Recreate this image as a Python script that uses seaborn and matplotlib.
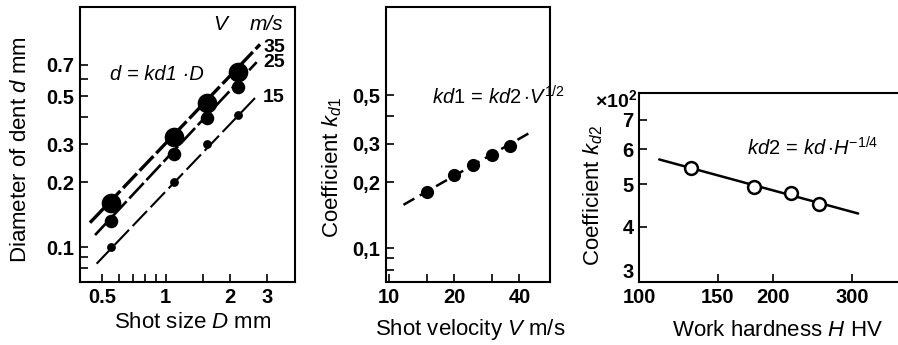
import matplotlib
matplotlib.use("Agg")
import matplotlib.pyplot as plt
import seaborn as sns
import pandas as pd
from matplotlib.ticker import FixedLocator, FixedFormatter, NullLocator

# ---------------- data ----------------
# Panel 1: dent diameter vs shot size, for three shot velocities
shot_size = [0.55, 1.09, 1.57, 2.2]
dent_v35 = [0.16, 0.325, 0.464, 0.65]
dent_v25 = [0.133, 0.27, 0.395, 0.55]
dent_v15 = [0.10, 0.20, 0.30, 0.41]
fit_D35 = [0.44, 2.78]
fit_d35 = [0.13, 0.87]
fit_D25 = [0.465, 2.68]
fit_d25 = [0.114, 0.72]
fit_D15 = [0.473, 2.73]
fit_d15 = [0.084, 0.51]
velocity_labels = ["35", "25", "15"]

# Panel 2: coefficient kd1 vs shot velocity
shot_velocity = [15, 20, 24.5, 30, 36]
coef_kd1 = [0.181, 0.216, 0.24, 0.267, 0.294]
fit_V = [11.7, 45.6]
fit_kd1 = [0.158, 0.341]

# Panel 3: coefficient kd2 (x10^2) vs work hardness
hardness = [131, 181, 219, 253]
coef_kd2 = [5.43, 4.93, 4.78, 4.52]
fit_H = [111, 310]
fit_kd2 = [5.69, 4.29]

# tick positions / labels
p1_xticks = [0.5, 0.6, 0.7, 0.8, 0.9, 1, 1.5, 2, 3]
p1_xlabels = ["0.5", "", "", "", "", "1", "", "2", "3"]
p1_yticks = [0.08, 0.09, 0.1, 0.2, 0.3, 0.4, 0.5, 0.6, 0.7]
p1_ylabels = ["", "", "0.1", "0.2", "0.3", "", "0.5", "", "0.7"]
p2_xticks = [10, 15, 20, 30, 40]
p2_xlabels = ["10", "", "20", "", "40"]
p2_yticks = [0.08, 0.09, 0.1, 0.2, 0.3, 0.4, 0.5]
p2_ylabels = ["", "", "0,1", "0,2", "0,3", "", "0,5"]
p3_xticks = [100, 150, 200, 300]
p3_xlabels = ["100", "150", "200", "300"]
p3_yticks = [3, 4, 5, 6, 7]
p3_ylabels = ["3", "4", "5", "6", "7"]

# ---------------- style ----------------
sns.set_style("ticks")
plt.rcParams["font.family"] = ["Liberation Sans", "DejaVu Sans"]
plt.rcParams["mathtext.fontset"] = "custom"
plt.rcParams["mathtext.rm"] = "Liberation Sans"
plt.rcParams["mathtext.it"] = "Liberation Sans:italic"
plt.rcParams["mathtext.bf"] = "Liberation Sans:bold"
for key in ["text.color", "axes.labelcolor", "xtick.color", "ytick.color",
            "xtick.labelcolor", "ytick.labelcolor", "axes.edgecolor"]:
    plt.rcParams[key] = "black"

W, H = 898, 345
fig = plt.figure(figsize=(W / 100, H / 100), dpi=100)


def px_axes(left, right, top, bottom):
    return fig.add_axes([left / W, (H - bottom) / H, (right - left) / W, (bottom - top) / H])


ax1 = px_axes(80, 295, 7, 282)
ax2 = px_axes(386, 550, 7, 282)
ax3 = px_axes(639, 907.5, 93, 282)

TICK_FS = 14.5
LABEL_FS = 16


def style_axes(ax, xt, xl, yt, yl):
    ax.set_xscale("log")
    ax.set_yscale("log")
    ax.xaxis.set_major_locator(FixedLocator(xt))
    ax.xaxis.set_major_formatter(FixedFormatter(xl))
    ax.yaxis.set_major_locator(FixedLocator(yt))
    ax.yaxis.set_major_formatter(FixedFormatter(yl))
    ax.xaxis.set_minor_locator(NullLocator())
    ax.yaxis.set_minor_locator(NullLocator())
    ax.tick_params(direction="in", length=6, width=1.2, color="black",
                   labelcolor="black", labelsize=TICK_FS, pad=4)
    for lab in ax.get_xticklabels() + ax.get_yticklabels():
        lab.set_fontweight("bold")
    for sp in ax.spines.values():
        sp.set_visible(True)
        sp.set_linewidth(1.5)
        sp.set_color("black")


# ---------------- panel 1 ----------------
sns.lineplot(x=fit_D35, y=fit_d35, ax=ax1, color="black", lw=2.4,
             linestyle=(0, (6, 1.2)), sort=False)
sns.lineplot(x=fit_D25, y=fit_d25, ax=ax1, color="black", lw=1.9,
             linestyle=(0, (8, 1.5)), sort=False)
sns.lineplot(x=fit_D15, y=fit_d15, ax=ax1, color="black", lw=1.5,
             linestyle=(0, (10, 2.5)), sort=False)
sns.scatterplot(x=shot_size, y=dent_v35, ax=ax1, color="black", s=200,
                edgecolor="black", linewidth=0, zorder=5)
sns.scatterplot(x=shot_size, y=dent_v25, ax=ax1, color="black", s=95,
                edgecolor="black", linewidth=0, zorder=5)
sns.scatterplot(x=shot_size, y=dent_v15, ax=ax1, color="black", s=40,
                edgecolor="black", linewidth=0, zorder=5)
ax1.set_xlim(0.395, 4.06)
ax1.set_ylim(0.0691, 1.296)
style_axes(ax1, p1_xticks, p1_xlabels, p1_yticks, p1_ylabels)
ax1.set_xlabel("Shot size $D$ mm", fontsize=LABEL_FS)
ax1.set_ylabel("Diameter of dent $d$ mm", fontsize=LABEL_FS)
ax1.xaxis.set_label_coords(0.526, -0.1455)
ax1.yaxis.set_label_coords(-0.279, 0.48)
ax1.xaxis.label.set_va("center")
ax1.yaxis.label.set_va("center")

ax1.text((220 - 80) / 215, (282 - 25) / 275, "V", transform=ax1.transAxes,
         fontsize=15, fontstyle="italic", ha="center", va="center")
ax1.text((266 - 80) / 215, (282 - 25) / 275, "m/s", transform=ax1.transAxes,
         fontsize=15, fontstyle="italic", ha="center", va="center")
# "35" and "25" are stacked tightly in the reference: one two-line text
ax1.text((274 - 80) / 215, (282 - 55) / 275,
         velocity_labels[0] + "\n" + velocity_labels[1], transform=ax1.transAxes,
         fontsize=14, fontweight="bold", ha="center", va="center", linespacing=0.85)
ax1.text((274 - 80) / 215, (282 - 98) / 275, velocity_labels[2], transform=ax1.transAxes,
         fontsize=14, fontweight="bold", ha="center", va="center")
ax1.text((157 - 80) / 215, (282 - 75) / 275, "d = kd1 \u00b7D", transform=ax1.transAxes,
         fontsize=14.5, fontstyle="italic", ha="center", va="center")

# ---------------- panel 2 ----------------
sns.lineplot(x=fit_V, y=fit_kd1, ax=ax2, color="black", lw=1.8,
             linestyle=(0, (5, 2.5)), sort=False)
sns.scatterplot(x=shot_velocity, y=coef_kd1, ax=ax2, color="black", s=90,
                edgecolor="black", linewidth=0, zorder=5)
ax2.set_xlim(9.72, 55.3)
ax2.set_ylim(0.0702, 1.263)
style_axes(ax2, p2_xticks, p2_xlabels, p2_yticks, p2_ylabels)
ax2.set_xlabel("Shot velocity $V$ m/s", fontsize=LABEL_FS)
ax2.set_ylabel("Coefficient $k_{d1}$", fontsize=LABEL_FS)
ax2.xaxis.set_label_coords(0.512, -0.1745)
ax2.yaxis.set_label_coords(-0.329, 0.4145)
ax2.xaxis.label.set_va("center")
ax2.yaxis.label.set_va("center")
ax2.text((432 - 386) / 164, (282 - 97) / 275,
         r"$\mathit{kd1}\,{=}\,\mathit{kd2}\,{\cdot}\mathit{V}^{\mathit{1/2}}$",
         transform=ax2.transAxes, fontsize=14.5, ha="left", va="center", clip_on=False)

# ---------------- panel 3 ----------------
sns.lineplot(x=fit_H, y=fit_kd2, ax=ax3, color="black", lw=1.8, sort=False)
sns.scatterplot(x=hardness, y=coef_kd2, ax=ax3, color="white", s=85,
                edgecolor="black", linewidth=1.8, zorder=5)
ax3.set_xlim(100, 400)
ax3.set_ylim(3, 8.05)
style_axes(ax3, p3_xticks, p3_xlabels, p3_yticks, p3_ylabels)
ax3.get_yticklabels()[0].set_va("bottom")
ax3.set_xlabel("Work hardness $H$ HV", fontsize=LABEL_FS)
ax3.set_ylabel("Coefficient $k_{d2}$", fontsize=LABEL_FS)
ax3.xaxis.set_label_coords(0.514, -0.254)
ax3.yaxis.set_label_coords(-0.171, 0.46)
ax3.xaxis.label.set_va("center")
ax3.yaxis.label.set_va("center")
ax3.text((747 - 639) / 268.5, (282 - 148) / 189,
         r"$\mathit{kd2}\,{=}\,\mathit{kd}\,{\cdot}\mathit{H}^{\mathit{-1/4}}$",
         transform=ax3.transAxes, fontsize=14.5, ha="left", va="center")
ax3.text((616 - 639) / 268.5, (282 - 100) / 189, r"$\mathbf{\times 10^{2}}$",
         transform=ax3.transAxes, fontsize=14, ha="center", va="center")

fig.savefig("out.png", dpi=100)
